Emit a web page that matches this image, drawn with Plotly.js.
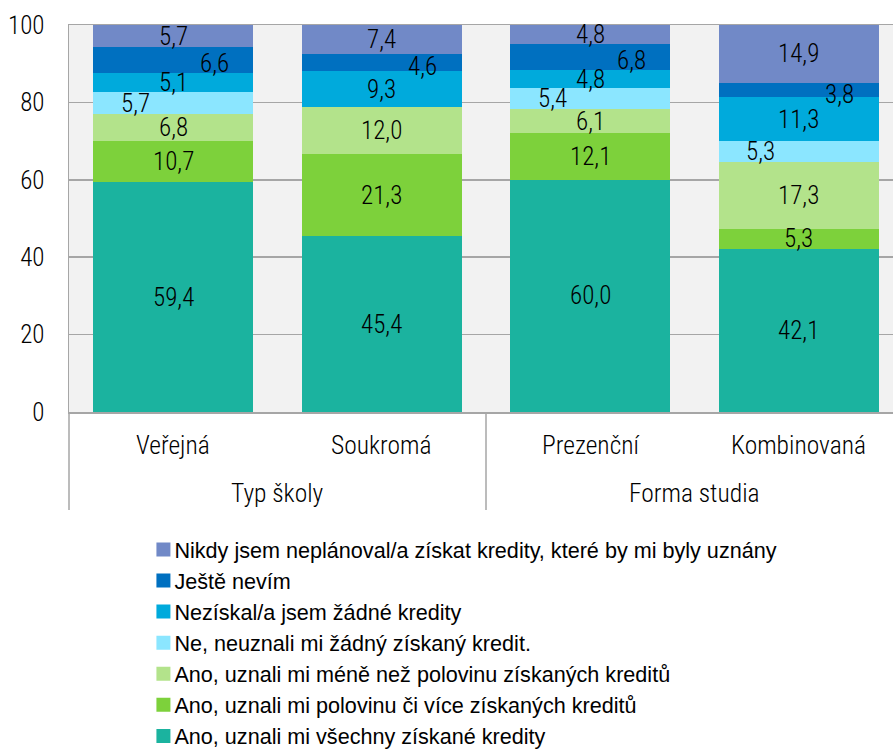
<!DOCTYPE html>
<html>
<head>
<meta charset="utf-8">
<script src="https://cdn.plot.ly/plotly-3.0.1.min.js"></script>
<style>html,body{margin:0;padding:0;background:#fff;}#chart{width:893px;height:754px;}</style>
</head>
<body>
<div id="chart"></div>
<script>
// ---- data ----
const groups = ['Typ školy', 'Typ školy', 'Forma studia', 'Forma studia'];
const categories = ['Veřejná', 'Soukromá', 'Prezenční', 'Kombinovaná'];

const seriesNames = [
  'Ano, uznali mi všechny získané kredity',
  'Ano, uznali mi polovinu či více získaných kreditů',
  'Ano, uznali mi méně než polovinu získaných kreditů',
  'Ne, neuznali mi žádný získaný kredit.',
  'Nezískal/a jsem žádné kredity',
  'Ještě nevím',
  'Nikdy jsem neplánoval/a získat kredity, které by mi byly uznány'
];
const anoVsechny   = [59.4, 45.4, 60.0, 42.1];
const anoPolovinu  = [10.7, 21.3, 12.1, 5.3];
const anoMene      = [6.8, 12.0, 6.1, 17.3];
const neNeuznali   = [5.7, null, 5.4, 5.3];
const neziskal     = [5.1, 9.3, 4.8, 11.3];
const jesteNevim   = [6.6, 4.6, 6.8, 3.8];
const nikdy        = [5.7, 7.4, 4.8, 14.9];
const seriesValues = [anoVsechny, anoPolovinu, anoMene, neNeuznali, neziskal, jesteNevim, nikdy];
const yTicks = [0, 20, 40, 60, 80, 100];

// ---- styles ----
const colors = ['#1BB39F', '#7DD13B', '#B3E38B', '#8BE6FF', '#00AADC', '#0070C0', '#7189C7'];
const labelShiftX = [0, 0, 0, -38, 0, 41, 0];
const labelShiftY = [0, 0, 0, 0, 0, -4, 0];
const NARROW = '"Roboto Condensed", "Liberation Sans", sans-serif';
const FONT = '"Liberation Sans", Arial, sans-serif';
const gridColor = '#a6a6a6';
const narrowFont = (size) => ({family: NARROW, size: size, color: '#000', weight: 300});

const xIdx = categories.map((c, i) => i);

const traces = seriesNames.map((name, s) => ({
  type: 'bar',
  name: name,
  x: xIdx,
  y: seriesValues[s],
  width: 0.767,
  marker: {color: colors[s], line: {width: 0}},
  hoverinfo: 'name+y'
}));

const annotations = [];
const fmt = v => v.toFixed(1).replace('.', ',');
xIdx.forEach(i => {
  let base = 0;
  seriesValues.forEach((arr, s) => {
    const v = arr[i];
    if (v == null) return;
    annotations.push({
      x: i, y: base + v / 2, xref: 'x', yref: 'y',
      text: fmt(v), showarrow: false,
      xshift: labelShiftX[s], yshift: labelShiftY[s],
      font: narrowFont(25)
    });
    base += v;
  });
});
// category labels
categories.forEach((c, i) => {
  annotations.push({
    x: i, y: -0.085, xref: 'x', yref: 'paper', text: c, showarrow: false,
    yanchor: 'middle', font: narrowFont(25.5)
  });
});
// group labels
const uniqueGroups = [...new Set(groups)];
uniqueGroups.forEach(g => {
  const idx = groups.map((gg, i) => gg === g ? i : -1).filter(i => i >= 0);
  const mid = (idx[0] + idx[idx.length - 1]) / 2;
  annotations.push({
    x: mid, y: -0.209, xref: 'x', yref: 'paper', text: g, showarrow: false,
    yanchor: 'middle', font: narrowFont(25.5)
  });
});

const shapes = [
  {type: 'line', xref: 'paper', yref: 'paper', x0: 0, x1: 0, y0: -0.253, y1: 0, line: {color: gridColor, width: 1.5}},
  {type: 'line', xref: 'x', yref: 'paper', x0: 1.5, x1: 1.5, y0: -0.253, y1: 0, line: {color: gridColor, width: 1.5}}
];

const layout = {
  width: 893, height: 754,
  margin: {l: 69, r: 0, t: 25, b: 342, pad: 0, autoexpand: false},
  paper_bgcolor: '#ffffff',
  plot_bgcolor: '#f2f2f2',
  barmode: 'stack',
  showlegend: true,
  font: {family: FONT, size: 20, color: '#000'},
  xaxis: {
    range: [-0.5, 3.452], showticklabels: false, ticks: '', showgrid: false, zeroline: false,
    showline: true, linecolor: gridColor, linewidth: 1.5, mirror: true, fixedrange: true
  },
  yaxis: {
    range: [0, 100], tickvals: yTicks, ticks: '',
    showgrid: true, gridcolor: gridColor, gridwidth: 1.5, zeroline: false,
    showline: true, linecolor: gridColor, linewidth: 1.5,
    ticklabelstandoff: 18, automargin: false,
    tickfont: narrowFont(25), fixedrange: true
  },
  legend: {
    orientation: 'v', traceorder: 'reversed', x: 0.0794, xanchor: 'left', y: -0.302, yanchor: 'top',
    font: {family: FONT, size: 21.6, color: '#000'}, bgcolor: 'rgba(0,0,0,0)', itemwidth: 30, tracegroupgap: 0
  },
  annotations: annotations,
  shapes: shapes
};

Plotly.newPlot('chart', traces, layout, {displayModeBar: false, staticPlot: true}).then(gd => {
  // bring legend swatches closer to their text and make them slightly larger, as in the original
  gd.querySelectorAll('.legend .traces .legendsymbols').forEach(el => {
    el.setAttribute('transform', 'translate(9,0)');
  });
  gd.querySelectorAll('.legend .traces .legendsymbols path').forEach(p => {
    p.setAttribute('d', 'M7,7H-7V-7H7Z');
  });
});
</script>
</body>
</html>
